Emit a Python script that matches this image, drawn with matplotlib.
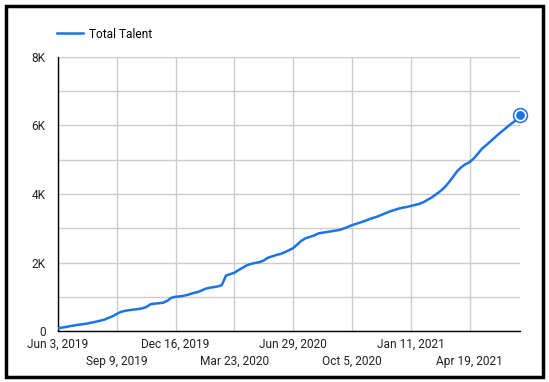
import matplotlib
matplotlib.use("Agg")
import matplotlib.pyplot as plt
from matplotlib.patches import Rectangle
import pandas as pd

plt.rcParams['font.family'] = ['Roboto', 'DejaVu Sans']

start_date = "2019-06-03"
total_talent = [
    80, 100, 120, 145, 165, 185, 200, 220, 245, 270,
    300, 330, 380, 430, 500, 560, 590, 610, 625, 640,
    660, 700, 780, 800, 810, 825, 880, 970, 1000, 1010,
    1030, 1060, 1100, 1130, 1170, 1230, 1260, 1280, 1300, 1340,
    1620, 1660, 1700, 1780, 1850, 1920, 1960, 1990, 2010, 2060,
    2140, 2180, 2220, 2250, 2300, 2360, 2420, 2530, 2640, 2710,
    2750, 2790, 2850, 2870, 2890, 2910, 2930, 2950, 2990, 3040,
    3090, 3130, 3170, 3210, 3260, 3300, 3340, 3390, 3440, 3490,
    3530, 3570, 3600, 3620, 3650, 3680, 3710, 3760, 3830, 3900,
    3990, 4080, 4190, 4330, 4490, 4660, 4780, 4870, 4930, 5040,
    5180, 5330, 5430, 5540, 5650, 5760, 5860, 5960, 6060, 6150,
    6310,
]
tick_labels = ["Jun 3, 2019", "Sep 9, 2019", "Dec 16, 2019", "Mar 23, 2020",
               "Jun 29, 2020", "Oct 5, 2020", "Jan 11, 2021", "Apr 19, 2021"]
y_ticks = [0, 2000, 4000, 6000, 8000]
y_tick_labels = ["0", "2K", "4K", "6K", "8K"]

dates = pd.date_range(start_date, periods=len(total_talent), freq="7D")
tick_dates = pd.to_datetime(tick_labels, format="%b %d, %Y")

BLUE = "#1a73e8"
FS = 8.6
W, H = 549, 382
fig = plt.figure(figsize=(W / 100, H / 100), dpi=100)
ax = fig.add_axes([58 / W, 1 - 331 / H, (520 - 58) / W, (331 - 57) / H])

ax.plot(dates, total_talent, color=BLUE, lw=1.8, label="Total Talent", zorder=3)
ax.plot(dates[-1:], total_talent[-1:], 'o', ms=10, mfc="white", mec=BLUE, mew=1.1, zorder=4, clip_on=False)
ax.plot(dates[-1:], total_talent[-1:], 'o', ms=6.3, mfc=BLUE, mec=BLUE, mew=0, zorder=5, clip_on=False)

ax.set_xlim(dates[0], dates[-1])
ax.set_ylim(0, 8000)
ax.set_yticks(y_ticks)
ax.set_yticklabels(y_tick_labels)
ax.set_yticks(range(0, 8001, 1000), minor=True)
ax.set_xticks(tick_dates)
ax.set_xticklabels(tick_labels)

ax.grid(True, which="both", axis="y", color="#cccccc", lw=1)
ax.grid(True, which="major", axis="x", color="#cccccc", lw=1)
ax.set_axisbelow(True)
ax.tick_params(axis="both", which="both", length=0, labelsize=FS, colors="#222222")
ax.tick_params(axis="y", pad=9)
ax.tick_params(axis="x", pad=5)
for i, t in enumerate(ax.xaxis.get_major_ticks()):
    t.set_pad(5 if i % 2 == 0 else 17)
for s in ["top", "right"]:
    ax.spines[s].set_visible(False)
for s in ["left", "bottom"]:
    ax.spines[s].set_color("black")
    ax.spines[s].set_linewidth(1)

fig.legend(loc="center left", bbox_to_anchor=(57 / W, 1 - 34 / H), frameon=False,
           fontsize=FS, handlelength=2.2, handletextpad=0.5, borderpad=0, borderaxespad=0)

fig.patches.append(Rectangle((6 / W, 5 / H), (537 / W), (371 / H), transform=fig.transFigure,
                             fill=False, edgecolor="black", lw=2.5))

fig.savefig("out.png", dpi=100)
